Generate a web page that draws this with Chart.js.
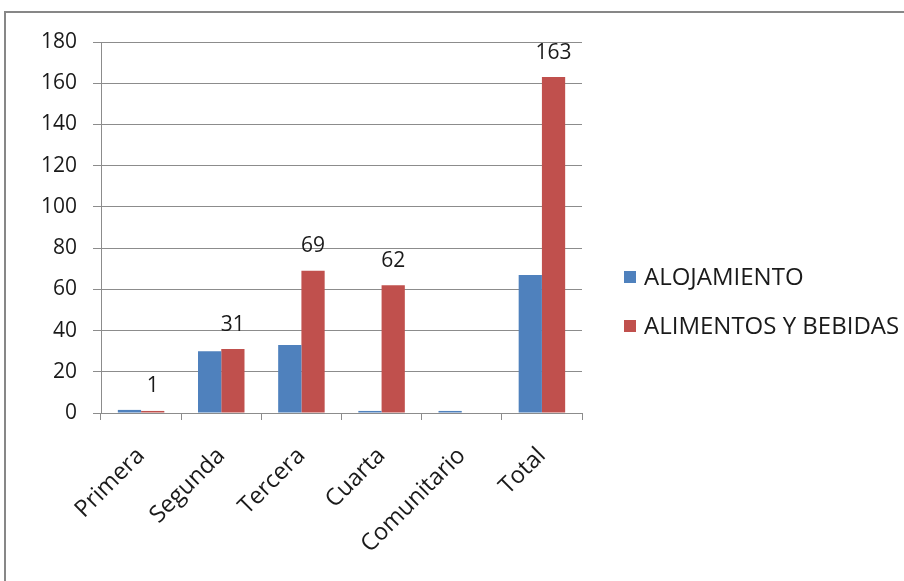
<!DOCTYPE html>
<html>
<head>
<meta charset="utf-8">
<script src="https://cdn.jsdelivr.net/npm/chart.js@4.4.1/dist/chart.umd.min.js"></script>
<style>
  html, body { margin: 0; padding: 0; background: #fff; }
  #wrap { position: relative; width: 904px; height: 581px; overflow: hidden; }
  #frame { position: absolute; left: 4px; top: 11px; width: 1000px; height: 1000px; border: 2px solid #878787; box-sizing: border-box; }
  #c { position: absolute; left: 0; top: 0; }
</style>
</head>
<body>
<div id="wrap">
  <div id="frame"></div>
  <canvas id="c" width="904" height="581"></canvas>
</div>
<script>
const categories = ["Primera", "Segunda", "Tercera", "Cuarta", "Comunitario", "Total"];
const alojamiento = [1.5, 30, 33, 1, 1, 67];
const alimentos = [1, 31, 69, 62, 0, 163];
const yTicks = [0, 20, 40, 60, 80, 100, 120, 140, 160, 180];

const FONT = "'Open Sans', sans-serif";
const gridColor = "#8c8c8c";
const textColor = "#1a1a1a";

// numbers over the red bars
const valueLabels = {
  id: "valueLabels",
  afterDatasetsDraw(chart) {
    const ctx = chart.ctx;
    const meta = chart.getDatasetMeta(1);
    ctx.save();
    ctx.font = "21px " + FONT;
    ctx.fillStyle = textColor;
    ctx.textAlign = "center";
    ctx.textBaseline = "bottom";
    meta.data.forEach((bar, i) => {
      if (!alimentos[i]) return;
      ctx.fillText(String(alimentos[i]), bar.x, bar.y - 14);
    });
    ctx.restore();
  }
};

// legend on the right, drawn from the datasets
const sideLegend = {
  id: "sideLegend",
  afterDraw(chart) {
    const ctx = chart.ctx;
    const x = chart.chartArea.right + 42;
    let y = 277;
    ctx.save();
    ctx.font = "24px " + FONT;
    ctx.textBaseline = "middle";
    ctx.textAlign = "left";
    chart.data.datasets.forEach((ds) => {
      ctx.fillStyle = ds.backgroundColor;
      ctx.fillRect(x, y - 6, 12, 12);
      ctx.fillStyle = textColor;
      ctx.fillText(ds.label, x + 20, y + 1);
      y += 49;
    });
    ctx.restore();
  }
};

new Chart(document.getElementById("c"), {
  type: "bar",
  data: {
    labels: categories,
    datasets: [
      {
        label: "ALOJAMIENTO",
        data: alojamiento,
        backgroundColor: "#4F81BD",
        categoryPercentage: 0.58,
        barPercentage: 1,
      },
      {
        label: "ALIMENTOS Y BEBIDAS",
        data: alimentos,
        backgroundColor: "#C0504D",
        categoryPercentage: 0.58,
        barPercentage: 1,
      },
    ],
  },
  options: {
    responsive: false,
    animation: false,
    layout: { padding: { top: 42, left: 0, right: 322, bottom: 0 } },
    plugins: {
      tooltip: { enabled: false },
      legend: { display: false },
    },
    scales: {
      x: {
        grid: { offset: true, drawOnChartArea: false, drawTicks: true, tickLength: 7, color: gridColor },
        border: { color: gridColor },
        ticks: { color: textColor, font: { family: FONT, size: 23.5 }, minRotation: 45, maxRotation: 45, padding: 22 },
        afterFit(scale) { scale.height = 581 - 413; },
      },
      y: {
        min: 0,
        max: 180,
        afterBuildTicks(scale) { scale.ticks = yTicks.map((v) => ({ value: v })); },
        grid: { color: gridColor, tickLength: 8 },
        border: { color: gridColor },
        ticks: { color: textColor, font: { family: FONT, size: 21 }, padding: 16 },
        afterFit(scale) { scale.width = 101; },
      },
    },
  },
  plugins: [valueLabels, sideLegend],
});
</script>
</body>
</html>
